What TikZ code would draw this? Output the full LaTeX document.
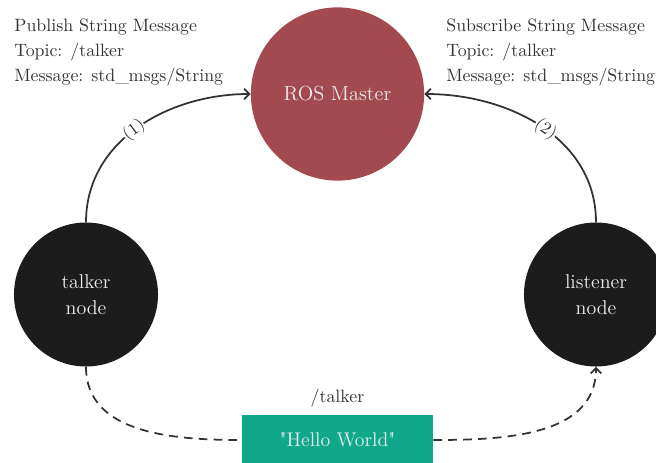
\documentclass[tikz,border=0pt]{standalone}
\usetikzlibrary{arrows.meta}
\definecolor{masterred}{HTML}{A34A50}
\definecolor{nodeblack}{HTML}{1C1C1C}
\definecolor{msggreen}{HTML}{0FA88A}
\definecolor{inkgray}{HTML}{333333}
\definecolor{lightink}{HTML}{EEEEEE}
\begin{document}
\begin{tikzpicture}[x=0.5714pt,y=-0.5714pt,
  rosnode/.style={circle,fill=nodeblack,text=lightink,minimum size=82.3pt,inner sep=0pt,
    align=center,font=\fontsize{11.4}{14.9}\selectfont},
  masternode/.style={circle,fill=masterred,text=lightink,minimum size=99pt,inner sep=0pt,
    font=\fontsize{11.6}{14}\selectfont},
  msgbox/.style={rectangle,fill=msggreen,text=lightink,minimum width=109.1pt,minimum height=29pt,
    inner sep=0pt,font=\fontsize{11.3}{14}\selectfont},
  note/.style={align=left,anchor=north west,inner sep=0pt,text=inkgray,
    font=\fontsize{10.2}{14.3}\selectfont},
  link/.style={draw=inkgray,line width=1pt,-{Straight Barb[length=3pt,width=6pt]}},
  msglink/.style={draw=inkgray,line width=1pt,dash pattern=on 5pt off 3.5pt},
  steplabel/.style={fill=white,inner sep=0.3pt,sloped,text=inkgray,font=\fontsize{10}{12}\selectfont}]
\useasboundingbox (0,0) rectangle (656,463);
\clip (0,0) rectangle (656,463);

\node[masternode] (master) at (337.5,94) {ROS Master};
\node[rosnode] (talker) at (86,294.5) {talker\\node};
\node[rosnode] (listener) at (596,294.5) {listener\\node};
\node[msgbox] (msg) at (337.5,440) {\textquotedbl Hello World\textquotedbl};
\node[text=inkgray,font=\fontsize{10.2}{12}\selectfont] (topic) at (337.5,398) {/talker};

\node[note] (pubnote) at (14,19) {Publish String Message\\Topic: /talker\\Message: std\_msgs/String};
\node[note] (subnote) at (446,19) {Subscribe String Message\\Topic: /talker\\Message: std\_msgs/String};

\draw[link] (talker.north) to[out=90,in=180] node[steplabel,pos=0.48] {(1)} (master.west);
\draw[link] (listener.north) to[out=90,in=0] node[steplabel,pos=0.48] {(2)} (master.east);

\draw[msglink] (talker.south) to[out=-90,in=180] (msg.west);
\draw[msglink,-{Straight Barb[length=3pt,width=6pt]}] (msg.east) to[out=0,in=-90] (listener.south);
\end{tikzpicture}
\end{document}
